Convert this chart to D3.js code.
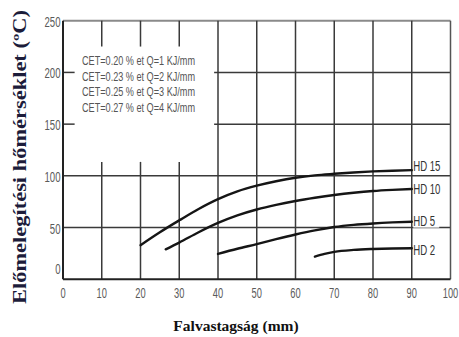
<!DOCTYPE html>
<html><head><meta charset="utf-8">
<script src="https://cdn.jsdelivr.net/npm/d3@7/dist/d3.min.js"></script>
<style>body{margin:0;background:#fff}svg{display:block}</style>
</head><body>
<svg id="c" width="459" height="337"></svg>
<script>
const xTicks = [0,10,20,30,40,50,60,70,80,90,100];
const yTicks = [0,50,100,150,200,250];
const legendLines = [
  "CET=0.20 % et Q=1 KJ/mm",
  "CET=0.23 % et Q=2 KJ/mm",
  "CET=0.25 % et Q=3 KJ/mm",
  "CET=0.27 % et Q=4 KJ/mm"
];
const seriesNames = ["HD 15","HD 10","HD 5","HD 2"];
const hd15 = [[20,33],[25,45.5],[30,57],[35,68],[40,77.5],[45,85],[50,90.5],[55,94.8],[60,98.2],[65,100.5],[70,102],[75,103.3],[80,104.3],[85,105],[90,105.5]];
const hd10 = [[26.5,29],[30,35.5],[35,45.5],[40,54.5],[45,61.8],[50,67.5],[55,72],[60,75.7],[65,78.8],[70,81.5],[75,83.7],[80,85.4],[85,86.5],[90,87.3]];
const hd5  = [[40,24.5],[45,29.5],[50,34],[55,38.8],[60,43.3],[65,47.3],[70,50.5],[75,52.6],[80,54],[85,55],[90,55.7]];
const hd2  = [[65,22],[67.5,24.6],[70,26.5],[75,28.4],[80,29.3],[85,29.8],[90,30]];
const seriesData = [hd15, hd10, hd5, hd2];

const svg = d3.select("#c");
const x = d3.scaleLinear().domain([0,100]).range([63,450.5]);
const y = d3.scaleLinear().domain([0,250]).range([279.3,20.7]);
const gridCol = "#3a3a3a";

// top border (faint)
svg.append("line").attr("x1",x(0)).attr("x2",x(100)).attr("y1",y(250)).attr("y2",y(250))
  .attr("stroke","#8a8a8a").attr("stroke-width",2);

// horizontal gridlines
yTicks.filter(v=>v>0 && v<250).forEach(v=>{
  const segs = (v>=150) ? [[0,3],[39,100]] : [[0,100]];
  segs.forEach(s=>svg.append("line").attr("x1",x(s[0])).attr("x2",x(s[1]))
    .attr("y1",y(v)).attr("y2",y(v)).attr("stroke",gridCol).attr("stroke-width",1.5));
});
// vertical gridlines
xTicks.filter(v=>v>0 && v<100).forEach(v=>{
  const segs = (v<40) ? [[225,250],[0,113.5]] : [[0,250]];
  segs.forEach(s=>svg.append("line").attr("x1",x(v)).attr("x2",x(v))
    .attr("y1",y(s[0])).attr("y2",y(s[1])).attr("stroke",gridCol).attr("stroke-width",1.5));
});
// right border
svg.append("line").attr("x1",x(100)).attr("x2",x(100)).attr("y1",y(0)).attr("y2",y(250))
  .attr("stroke","#555").attr("stroke-width",1.5);
// axes lines
svg.append("line").attr("x1",x(0)).attr("x2",x(0)).attr("y1",y(0)).attr("y2",y(250))
  .attr("stroke","#222").attr("stroke-width",2);
svg.append("line").attr("x1",x(0)).attr("x2",x(100)).attr("y1",y(0)).attr("y2",y(0))
  .attr("stroke","#222").attr("stroke-width",2);

const tickFont = "'Liberation Sans','Arial',sans-serif";
function squeeze(ax, k){ return `translate(${ax},0) scale(${k},1) translate(${-ax},0)`; }
// y tick labels
svg.selectAll(".yt").data(yTicks).join("text")
  .attr("x",x(0)-2.5).attr("y",d=>y(d)+(d===0?-5:6))
  .attr("text-anchor","end").attr("font-family",tickFont).attr("font-size",15.5)
  .attr("fill","#5a5a5a").attr("transform",squeeze(x(0)-2.5,0.62))
  .text(d=>d);
// x tick labels
svg.selectAll(".xt").data(xTicks).join("text")
  .attr("x",d=>x(d)).attr("y",298)
  .attr("text-anchor","middle").attr("font-family",tickFont).attr("font-size",15.5)
  .attr("fill","#5a5a5a").attr("transform",d=>squeeze(x(d),0.6))
  .text(d=>d);

// legend text
svg.selectAll(".lg").data(legendLines).join("text")
  .attr("x",82).attr("y",(d,i)=>65+i*15.7)
  .attr("font-family",tickFont).attr("font-size",12).attr("fill","#555")
  .attr("textLength",113).attr("lengthAdjust","spacingAndGlyphs")
  .text(d=>d);

// curves
const line = d3.line().x(d=>x(d[0])).y(d=>y(d[1])).curve(d3.curveMonotoneX);
seriesData.forEach(s=>svg.append("path").attr("d",line(s)).attr("fill","none")
  .attr("stroke","#151515").attr("stroke-width",2.4).attr("stroke-linecap","round"));

// series labels
const labelOffsets = [4.5, 1, 1.5, -1];
seriesData.forEach((s,i)=>{
  const last = s[s.length-1];
  const ly = y(last[1]+labelOffsets[i]);
  svg.append("rect").attr("x",x(90)+1.5).attr("y",ly-7).attr("width",26).attr("height",14.5).attr("fill","#fff");
  svg.append("text").attr("x",x(90)+1.5).attr("y",ly+5.8)
    .attr("font-family",tickFont).attr("font-size",15.5).attr("fill","#333")
    .attr("transform",squeeze(x(90)+1.5,0.62))
    .text(seriesNames[i]);
});

// axis titles
svg.append("text").attr("x",236).attr("y",331).attr("text-anchor","middle")
  .attr("font-family","'Liberation Serif','Times New Roman',serif").attr("font-weight","bold")
  .attr("font-size",15.5).attr("fill","#111").text("Falvastagság (mm)");
svg.append("text").attr("transform","translate(26,157) rotate(-90)").attr("text-anchor","middle")
  .attr("font-family","'Liberation Serif','Times New Roman',serif").attr("font-weight","bold")
  .attr("font-size",18).attr("fill","#1c1c3a")
  .attr("textLength",294).attr("lengthAdjust","spacingAndGlyphs")
  .text("Előmelegítési hőmérséklet (ºC)");
</script>
</body></html>
